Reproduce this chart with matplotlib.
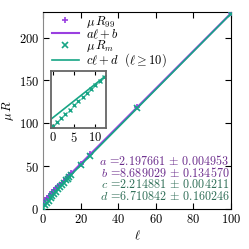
import matplotlib
matplotlib.use("Agg")
import matplotlib.pyplot as plt

plt.rcParams["font.family"] = ["cmr10", "DejaVu Serif"]
plt.rcParams["mathtext.fontset"] = "cm"
plt.rcParams["axes.formatter.use_mathtext"] = True
plt.rcParams["font.size"] = 9

# data
ell = [0, 1, 2, 3, 4, 5, 6, 7, 8, 9, 10, 11, 12, 13, 14, 15, 20, 25, 50, 100]
r99 = [5.2, 10.8, 13.0, 15.3, 17.5, 19.7, 21.9, 24.1, 26.3, 28.5, 30.7,
       32.9, 35.1, 37.3, 39.5, 41.7, 52.6, 63.6, 118.6, 228.5]
rm = [1.3, 4.0, 6.7, 9.5, 12.2, 14.9, 17.5, 20.2, 22.8, 25.4, 28.4,
      30.8, 33.2, 35.5, 37.8, 40.1, 51.1, 62.0, 117.6, 228.1]
fit_ab = (2.197661, 8.689029)
fit_cd = (2.214881, 6.710842)
fit_texts = [
    r"$a$ =2.197661 $\pm$ 0.004953",
    r"$b$ =8.689029 $\pm$ 0.134570",
    r"$c$ =2.214881 $\pm$ 0.004211",
    r"$d$ =6.710842 $\pm$ 0.160246",
]

purple = "#9A3FE0"
green = "#17A585"
txt_purple = "#6B2C8C"
txt_green = "#2F6E57"

fig = plt.figure(figsize=(2.49, 2.49), dpi=100)
ax = fig.add_axes([0.173, 0.161, 0.755, 0.791])

line_x = [0, 100]
ax.plot(ell, r99, "+", color=purple, ms=5, mew=1.2, label=r"$\mu\,R_{99}$", zorder=3)
ax.plot(line_x, [fit_ab[0] * x + fit_ab[1] for x in line_x], "-", color=purple, lw=1.5,
        label=r"$a\ell+b$")
ax.plot(ell, rm, "x", color=green, ms=4, mew=1.2, label=r"$\mu\,R_m$", zorder=3)
ax.plot(line_x, [fit_cd[0] * x + fit_cd[1] for x in line_x], "-", color=green, lw=1.2,
        label=r"$c\ell+d\ \ (\ell\geq10)$")

ax.set_xlim(0, 100)
ax.set_ylim(0, 230)
ax.set_xticks([0, 20, 40, 60, 80, 100])
ax.set_yticks([0, 50, 100, 150, 200])
ax.tick_params(direction="in", top=True, right=True, length=4, width=0.8, pad=3)
ax.spines["left"].set_color("#888888")
ax.set_xlabel(r"$\ell$", labelpad=2)
ax.set_ylabel(r"$\mu\,R$", labelpad=2)

for i, t in enumerate(fit_texts):
    ax.text(0.99, 0.244 - i * 0.06, t, transform=ax.transAxes, ha="right", va="center",
            fontsize=8.7, color=txt_purple if i < 2 else txt_green)

# inset: small ell
ins = fig.add_axes([0.206, 0.486, 0.22, 0.229])
n = 13
ins.plot(ell[:n], rm[:n], "x", color=green, ms=3, mew=1.0)
ins.plot([-0.3, 12.5], [fit_cd[0] * x + fit_cd[1] for x in (-0.3, 12.5)], "-", color=green, lw=1.2)
ins.set_xlim(-0.3, 12.5)
ins.set_ylim(0.14, 37.4)
ins.set_xticks([0, 5, 10])
ins.set_yticks([])
ins.tick_params(direction="in", top=True, length=3, width=0.8, pad=2)
for s in ins.spines.values():
    s.set_color("#666666")
    s.set_linewidth(1.3)

handles, labels = ax.get_legend_handles_labels()
fig.legend(handles, labels, loc="upper left", bbox_to_anchor=(0.2, 0.955), frameon=False,
           handlelength=2.1, handletextpad=0.6, labelspacing=-0.2, borderaxespad=0.0,
           borderpad=0.2)

fig.savefig("out.png", dpi=100)
